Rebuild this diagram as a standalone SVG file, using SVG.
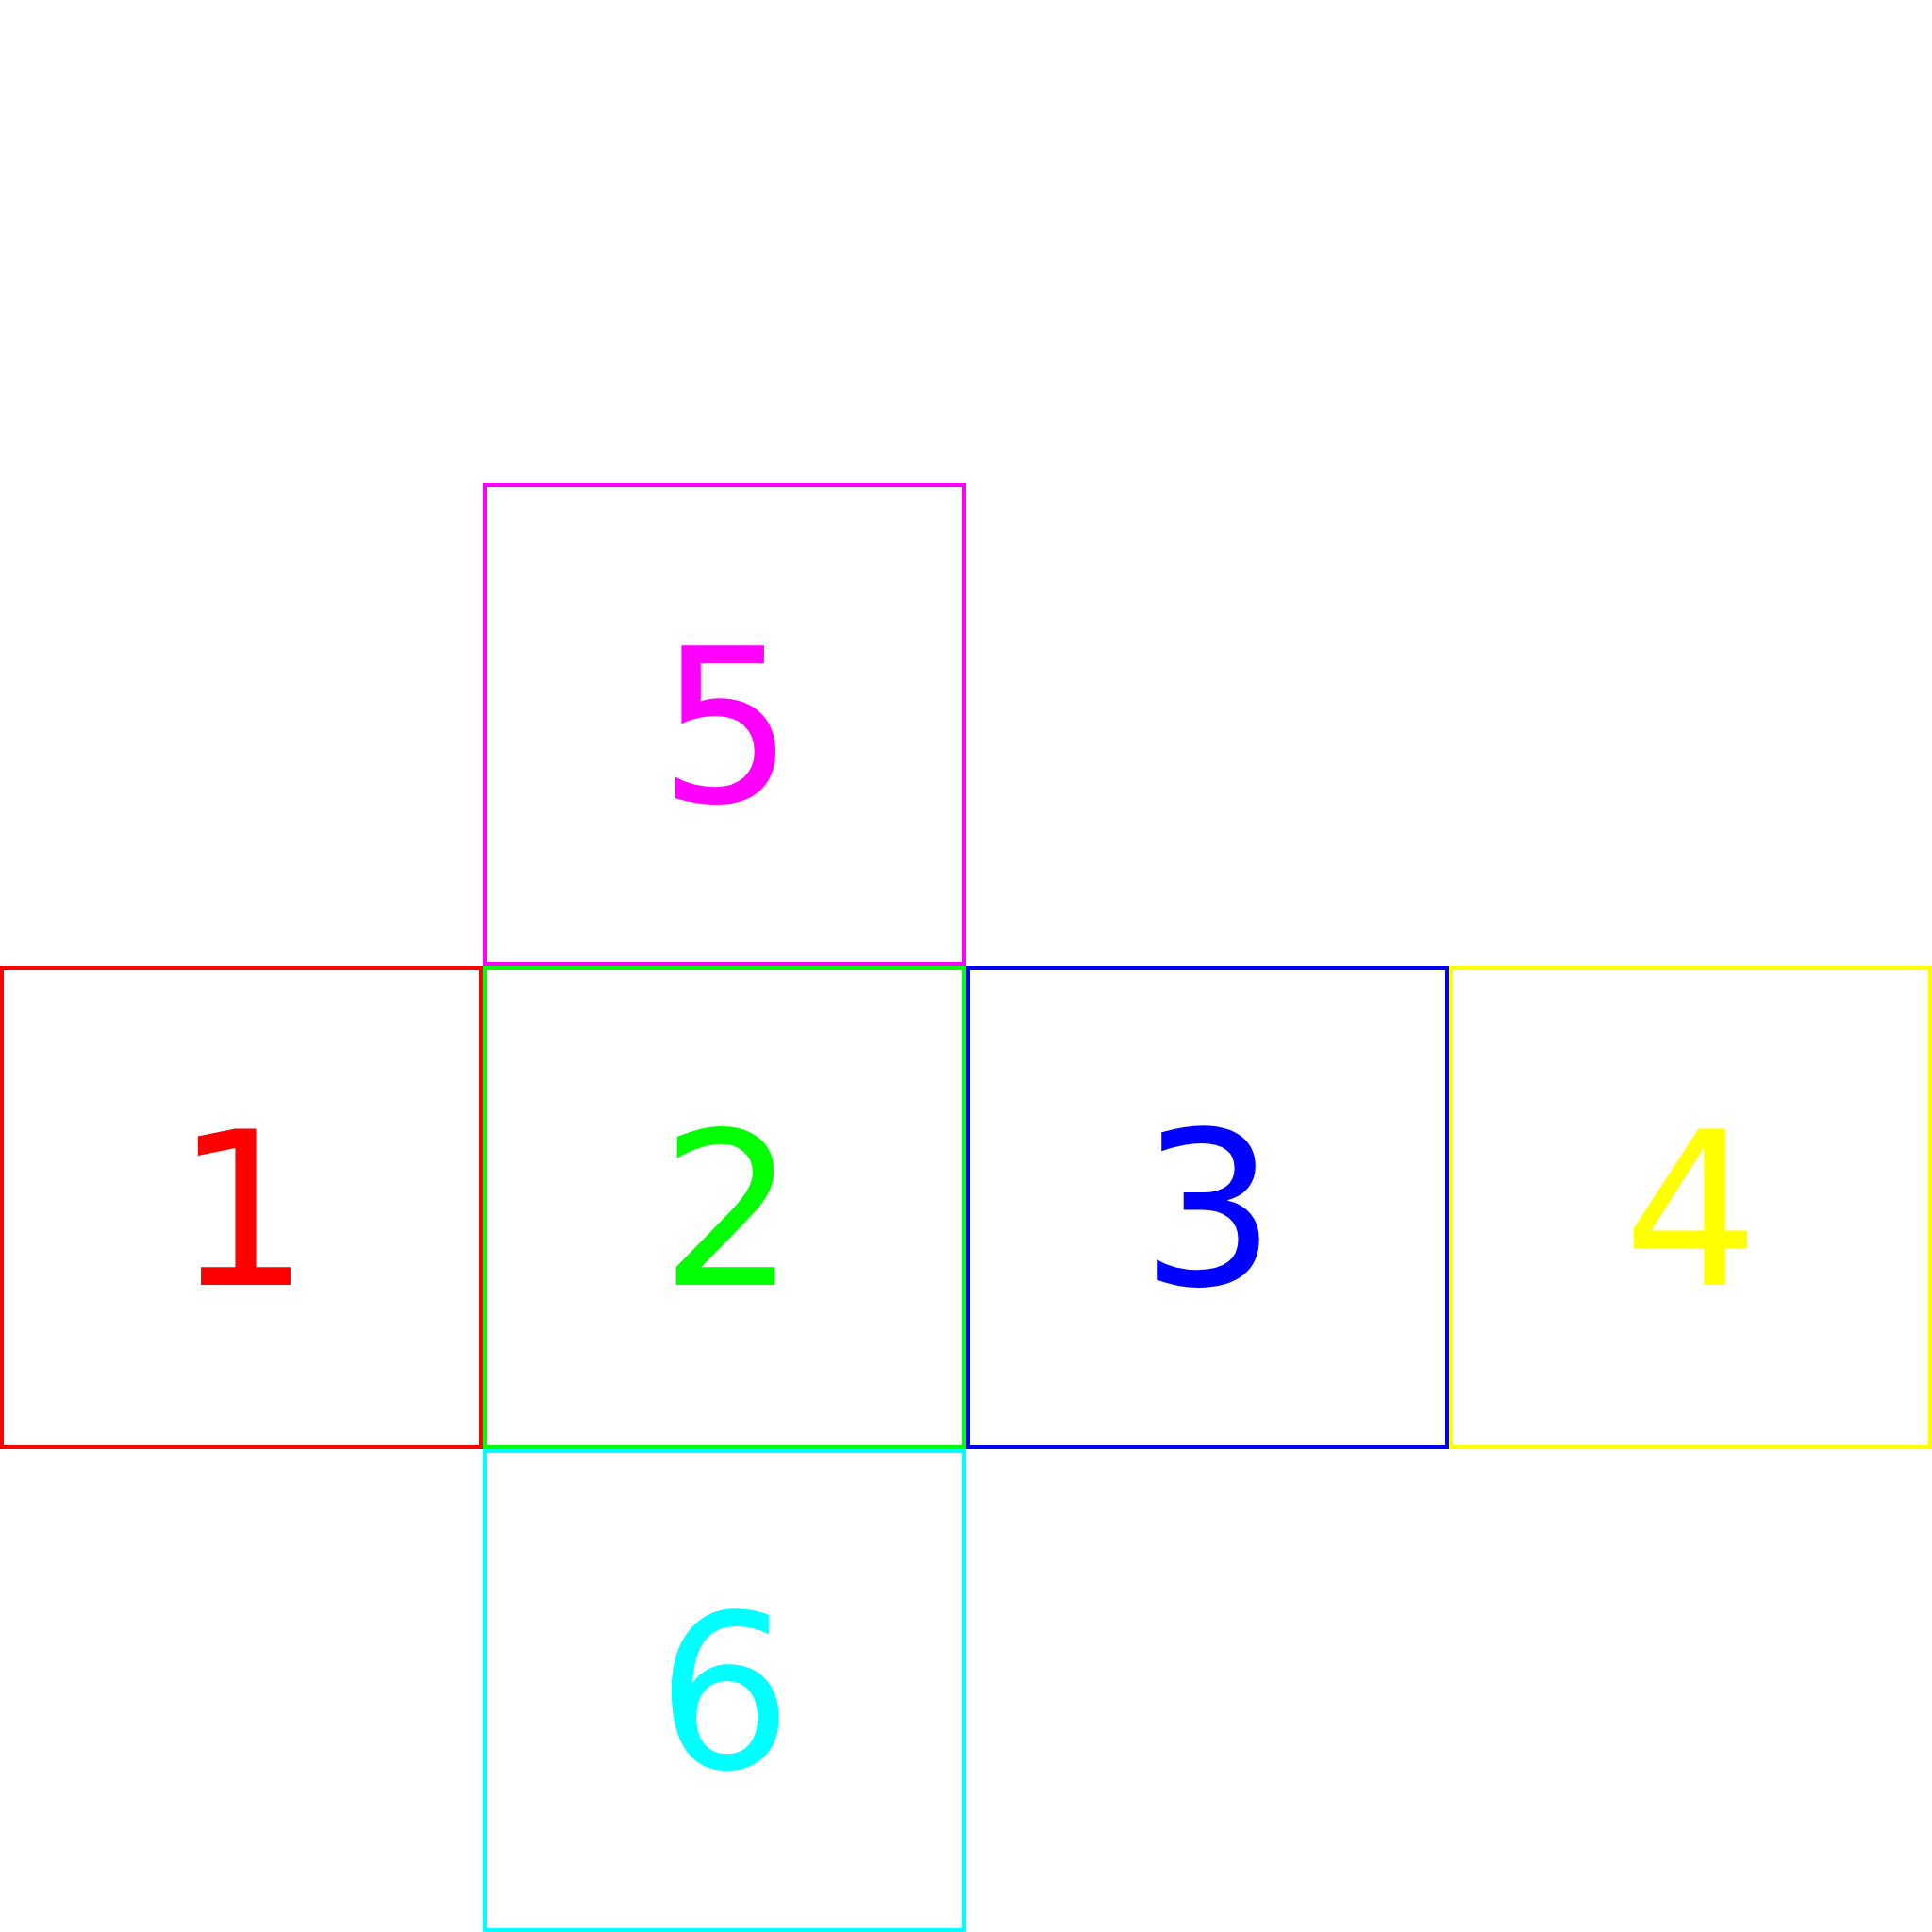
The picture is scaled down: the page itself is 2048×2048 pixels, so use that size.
<svg xmlns="http://www.w3.org/2000/svg" width="2048" height="2048" viewBox="0 0 2048 2048">
<style>
  .box { fill: none; stroke-width: 4; }
  .lbl { font-family: "DejaVu Sans", "Liberation Sans", sans-serif; font-size: 226px; text-anchor: middle; }
</style>
<rect width="2048" height="2048" fill="#ffffff"/>
<g id="connectors"></g>
<g id="node5">
  <rect class="box" x="514" y="514" width="508" height="508" stroke="#ff00ff"/>
  <text class="lbl" x="770" y="850" fill="#ff00ff">5</text>
</g>
<g id="node1">
  <rect class="box" x="2" y="1026" width="508" height="508" stroke="#ff0000"/>
  <text class="lbl" x="257" y="1362" fill="#ff0000">1</text>
</g>
<g id="node2">
  <rect class="box" x="514" y="1026" width="508" height="508" stroke="#00ff00"/>
  <text class="lbl" x="772" y="1362" fill="#00ff00">2</text>
</g>
<g id="node3">
  <rect class="box" x="1026" y="1026" width="508" height="508" stroke="#0000ff"/>
  <text class="lbl" x="1281" y="1362" fill="#0000ff">3</text>
</g>
<g id="node4">
  <rect class="box" x="1538" y="1026" width="508" height="508" stroke="#ffff00"/>
  <text class="lbl" x="1793" y="1362" fill="#ffff00">4</text>
</g>
<g id="node6">
  <rect class="box" x="514" y="1538" width="508" height="508" stroke="#00ffff"/>
  <text class="lbl" x="768" y="1874" fill="#00ffff">6</text>
</g>
</svg>
